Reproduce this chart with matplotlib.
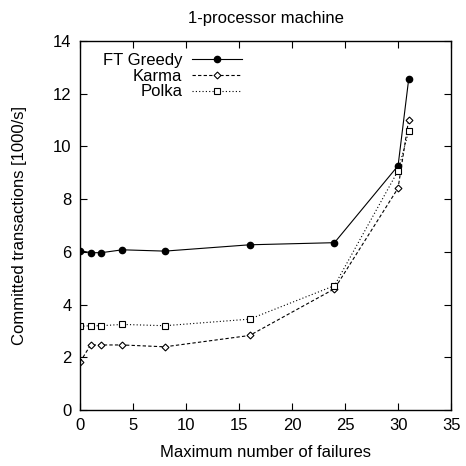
import matplotlib
matplotlib.use("Agg")
import matplotlib.pyplot as plt

plt.rcParams['font.family'] = ['Liberation Sans', 'DejaVu Sans']

failures = [0, 1, 2, 4, 8, 16, 24, 30, 31]
ft_greedy = [6.05, 5.97, 5.97, 6.08, 6.03, 6.27, 6.35, 9.27, 12.55]
karma = [1.82, 2.47, 2.47, 2.47, 2.40, 2.83, 4.60, 8.42, 11.02]
polka = [3.18, 3.20, 3.20, 3.25, 3.20, 3.45, 4.72, 9.08, 10.58]

fig = plt.figure(figsize=(4.66, 4.66), dpi=100)
ax = fig.add_axes([0.1717, 0.120, 0.7963, 0.792])

ax.plot(failures, ft_greedy, color='black', linestyle='-', linewidth=0.8,
        marker='o', markersize=4.5, markerfacecolor='black', label='FT Greedy')
ax.plot(failures, karma, color='black', linestyle=(0, (3, 2)), linewidth=0.8,
        marker='D', markersize=3.5, markerfacecolor='white', markeredgewidth=0.8, label='Karma')
ax.plot(failures, polka, color='black', linestyle=(0, (1, 2)), linewidth=0.8,
        marker='s', markersize=5, markerfacecolor='white', markeredgewidth=0.8, label='Polka')

ax.set_xlim(0, 35)
ax.set_ylim(0, 14)
ax.set_xticks(range(0, 36, 5))
ax.set_yticks(range(0, 15, 2))
ax.tick_params(direction='in', top=True, right=True, labelsize=12, length=5, pad=6)
for s in ax.spines.values():
    s.set_linewidth(1.0)

ax.set_xlabel('Maximum number of failures', fontsize=12, labelpad=8)
ax.set_ylabel('Committed transactions [1000/s]', fontsize=12, labelpad=19)
ax.set_title('1-processor machine', fontsize=12, pad=13)

leg = ax.legend(loc='upper left', bbox_to_anchor=(0.03, 1.0), frameon=False, fontsize=12,
                markerfirst=False, handlelength=3.0, labelspacing=0.05, borderaxespad=0.3,
                handletextpad=0.6)

fig.savefig('out.png', dpi=100)
